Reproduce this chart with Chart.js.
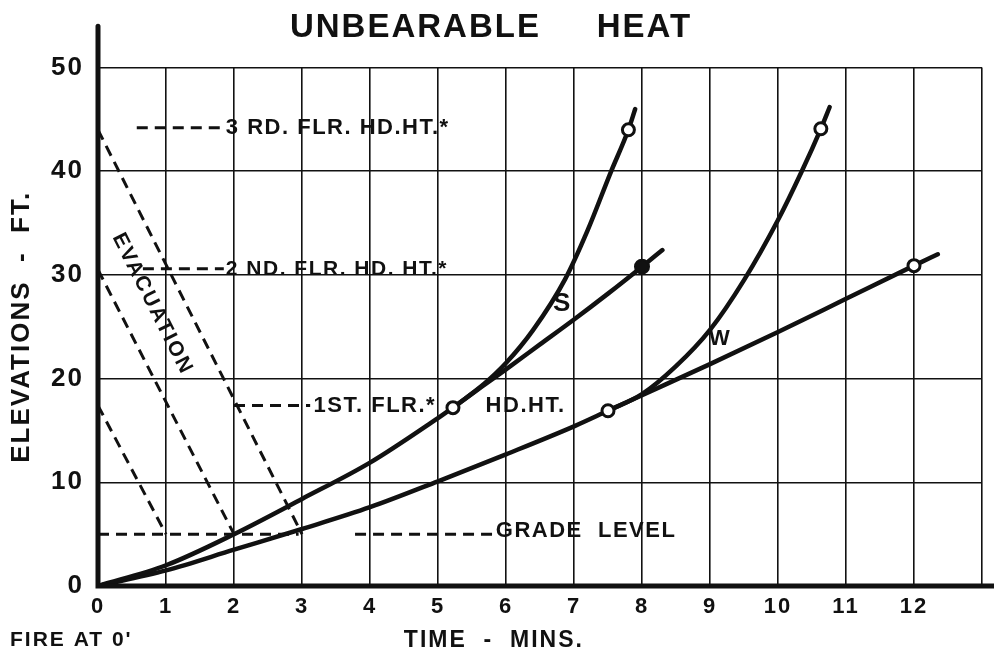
<!DOCTYPE html>
<html lang="en">
<head>
  <meta charset="UTF-8" />
  <title>Unbearable Heat</title>
  <script src="https://cdn.jsdelivr.net/npm/chart.js"></script>
  <style>
    html, body {
      margin: 0;
      padding: 0;
      background-color: #fff;
    }
    .chart-container {
      width: 994px;
      height: 658px;
      position: relative;
    }
  </style>
</head>
<body>
  <div class="chart-container">
    <canvas id="heatChart"></canvas>
  </div>

  <script>
    // curve through 1st and 2nd floor head heights (upper of the two base curves)
    const timeA = [0, 1, 2, 3, 4, 5, 5.22, 5.68, 6, 6.5, 7, 7.5, 8, 8.3];
    const elevA = [0, 2.0, 5.0, 8.4, 11.9, 16.2, 17.2, 19.4, 20.9, 23.3, 25.7, 28.2, 30.8, 32.4];
    // "S" branch up to 3rd floor
    const timeS = [5.22, 5.68, 6.0, 6.4, 6.87, 7.2, 7.54, 7.8, 7.9];
    const elevS = [17.2, 19.5, 21.5, 24.7, 29.6, 34.3, 39.9, 44.0, 46.0];
    // lower base curve
    const timeB = [0, 1, 2, 3, 4, 5, 6, 7, 7.5, 8, 9, 10, 11, 12, 12.35];
    const elevB = [0, 1.5, 3.5, 5.5, 7.6, 10.1, 12.7, 15.4, 16.9, 18.4, 21.4, 24.5, 27.7, 30.9, 32.0];
    // "W" branch up to 3rd floor
    const timeW = [7.5, 8.0, 8.5, 9.0, 9.5, 10.0, 10.35, 10.63, 10.76];
    const elevW = [16.9, 18.5, 21.2, 24.7, 29.5, 35.3, 40.0, 44.1, 46.2];

    // head height markers
    const openTime = [5.22, 7.5, 7.8, 10.63, 12.0];
    const openElev = [17.2, 16.9, 44.0, 44.1, 30.9];
    const solidTime = [8.0];
    const solidElev = [30.8];

    // evacuation lines: from floor elevation at t=0 down to grade
    const evacTopElev = [44, 30.5, 17.4];
    const evacGradeTime = [3, 2, 1];
    const gradeElev = 5;

    // floor head heights: 3rd, 2nd, 1st
    const floorElev = [44.2, 30.6, 17.4];
    const leaderFrom = [0.57, 0.66, 2.0];
    const leaderTo = [1.85, 1.85, 3.12];
    const gradeFrom = [0, 3.78];
    const gradeTo = [2.95, 5.8];

    const xTickLabels = ['0', '1', '2', '3', '4', '5', '6', '7', '8', '9', '10', '11', '12'];
    const yTickLabels = ['0', '10', '20', '30', '40', '50'];

    const pts = (xs, ys) => xs.map((x, i) => ({ x: x, y: ys[i] }));
    const FONT = '"Liberation Sans", Arial, sans-serif';

    const curve = (xs, ys) => ({
      data: pts(xs, ys),
      order: 2,
      showLine: true,
      borderColor: '#111',
      borderWidth: 4.5,
      pointRadius: 0,
      cubicInterpolationMode: 'monotone',
      borderCapStyle: 'round'
    });
    const dashed = (data) => ({
      data: data,
      order: 3,
      showLine: true,
      borderColor: '#111',
      borderWidth: 3,
      borderDash: [11, 7],
      pointRadius: 0,
      tension: 0
    });

    const datasets = [
      curve(timeA, elevA),
      curve(timeS, elevS),
      curve(timeB, elevB),
      curve(timeW, elevW)
    ];
    evacTopElev.forEach((e, i) => {
      datasets.push(dashed([{ x: 0, y: e }, { x: evacGradeTime[i], y: gradeElev }]));
    });
    floorElev.forEach((e, i) => {
      datasets.push(dashed([{ x: leaderFrom[i], y: e }, { x: leaderTo[i], y: e }]));
    });
    gradeFrom.forEach((f, i) => {
      datasets.push(dashed([{ x: f, y: gradeElev }, { x: gradeTo[i], y: gradeElev }]));
    });
    // markers sit on top of the curves (lower order draws last)
    datasets.push({
      data: pts(openTime, openElev),
      order: 0,
      showLine: false,
      pointRadius: 6,
      pointBackgroundColor: '#fff',
      pointBorderColor: '#111',
      pointBorderWidth: 3
    });
    datasets.push({
      data: pts(solidTime, solidElev),
      order: 0,
      showLine: false,
      pointRadius: 7,
      pointBackgroundColor: '#111',
      pointBorderColor: '#111',
      pointBorderWidth: 2
    });

    // text notes, placed at [time, elevation]
    const notes = [
      { text: '3 RD. FLR. HD.HT.*', at: [1.88, 44.2], size: 22, align: 'left' },
      { text: '2 ND. FLR. HD. HT.*', at: [1.88, 30.6], size: 21, align: 'left' },
      { text: '1ST. FLR.*', at: [3.17, 17.4], size: 22, align: 'left' },
      { text: 'HD.HT.', at: [5.7, 17.4], size: 22, align: 'left' },
      { text: 'GRADE  LEVEL', at: [5.85, 5.3], size: 22, align: 'left' },
      { text: 'S', at: [6.83, 27.2], size: 26, align: 'center' },
      { text: 'W', at: [9.15, 23.8], size: 22, align: 'center' }
    ];

    const paperPlugin = {
      id: 'paper',
      beforeDraw(chart) {
        const ctx = chart.ctx;
        ctx.save();
        ctx.fillStyle = '#fff';
        ctx.fillRect(0, 0, chart.width, chart.height);
        ctx.restore();
        ctx.letterSpacing = '2px';
      },
      afterDraw(chart) {
        const ctx = chart.ctx;
        const xs = chart.scales.x;
        const ys = chart.scales.y;
        ctx.save();
        // heavy axes, running past the grid like the drawing
        ctx.strokeStyle = '#111';
        ctx.lineWidth = 5;
        ctx.lineCap = 'round';
        ctx.beginPath();
        ctx.moveTo(xs.getPixelForValue(0), ys.getPixelForValue(54));
        ctx.lineTo(xs.getPixelForValue(0), ys.getPixelForValue(0));
        ctx.lineTo(xs.getPixelForValue(13.25), ys.getPixelForValue(0));
        ctx.stroke();

        ctx.fillStyle = '#111';
        ctx.textBaseline = 'middle';
        ctx.letterSpacing = '1.5px';
        notes.forEach(n => {
          ctx.font = 'bold ' + n.size + 'px ' + FONT;
          ctx.textAlign = n.align;
          ctx.fillText(n.text, xs.getPixelForValue(n.at[0]), ys.getPixelForValue(n.at[1]));
        });

        // EVACUATION, written along the first evacuation line
        const ang = Math.atan2(
          ys.getPixelForValue(gradeElev) - ys.getPixelForValue(evacTopElev[0]),
          xs.getPixelForValue(evacGradeTime[0]) - xs.getPixelForValue(0)
        );
        ctx.save();
        ctx.translate(xs.getPixelForValue(0.8), ys.getPixelForValue(27.2));
        ctx.rotate(ang);
        ctx.font = 'bold 21px ' + FONT;
        ctx.textAlign = 'center';
        ctx.letterSpacing = '2px';
        ctx.fillText('EVACUATION', 0, 0);
        ctx.restore();

        ctx.font = 'bold 21px ' + FONT;
        ctx.textAlign = 'left';
        ctx.letterSpacing = '2px';
        ctx.fillText("FIRE AT 0'", 10, 640);
        ctx.restore();
      }
    };

    new Chart(document.getElementById('heatChart'), {
      type: 'scatter',
      data: { datasets: datasets },
      plugins: [paperPlugin],
      options: {
        responsive: true,
        maintainAspectRatio: false,
        animation: false,
        events: [],
        layout: { padding: { left: 0, right: 12, top: 0, bottom: 0 } },
        plugins: {
          legend: { display: false },
          tooltip: { enabled: false },
          title: {
            display: true,
            text: 'UNBEARABLE     HEAT',
            color: '#111',
            font: { family: FONT, size: 33, weight: 'bold', lineHeight: 1.2 },
            padding: { top: 8, bottom: 20 }
          }
        },
        scales: {
          x: {
            type: 'linear',
            min: 0,
            max: 13,
            afterBuildTicks: scale => {
              scale.ticks = Array.from({ length: 14 }, (_, i) => ({ value: i }));
            },
            afterFit: scale => { scale.height = 72; },
            border: { display: false },
            grid: { color: '#111', lineWidth: 1.6, drawTicks: false },
            ticks: {
              color: '#111',
              padding: 8,
              font: { family: FONT, size: 22, weight: 'bold' },
              callback: value => xTickLabels[value] || ''
            },
            title: {
              display: true,
              // trailing spaces shift the centred title left, under minutes 4-7 as drawn
              text: 'TIME  -  MINS.           ',
              color: '#111',
              font: { family: FONT, size: 23, weight: 'bold', lineHeight: 1.2 },
              padding: { top: 0, bottom: 4 }
            }
          },
          y: {
            type: 'linear',
            min: 0,
            max: 50,
            afterBuildTicks: scale => {
              scale.ticks = yTickLabels.map(t => ({ value: Number(t) }));
            },
            afterFit: scale => { scale.width = 98; },
            border: { display: false },
            grid: { color: '#111', lineWidth: 1.6, drawTicks: false },
            ticks: {
              color: '#111',
              padding: 14,
              font: { family: FONT, size: 26, weight: 'bold' },
              callback: value => String(value)
            },
            title: {
              display: true,
              text: 'ELEVATIONS  -  FT.',
              color: '#111',
              font: { family: FONT, size: 26, weight: 'bold', lineHeight: 1.2 },
              padding: { top: 6, bottom: 0 }
            }
          }
        }
      }
    });
  </script>
</body>
</html>
